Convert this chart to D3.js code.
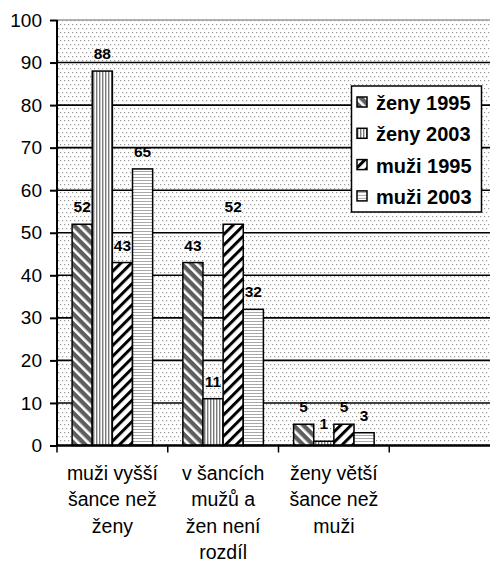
<!DOCTYPE html>
<meta charset="utf-8">
<html>
  <head>
    <title>šance</title>
    <style>
      body { margin: 0; background: #fff; }
      text { font-family: "Liberation Sans", Arial, Helvetica, sans-serif; }
    </style>
  </head>
  <body>
    <script src="https://d3js.org/d3.v7.min.js"></script>
    <script>

    // data
    var categories = ["muži vyšší|šance než|ženy", "v šancích|mužů a|žen není|rozdíl", "ženy větší|šance než|muži", ""];
    var series = ["ženy 1995", "ženy 2003", "muži 1995", "muži 2003"];
    var zeny1995 = [52, 43, 5];
    var zeny2003 = [88, 11, 1];
    var muzi1995 = [43, 52, 5];
    var muzi2003 = [65, 32, 3];
    var yTicks = [0, 10, 20, 30, 40, 50, 60, 70, 80, 90, 100];

    var values = [zeny1995, zeny2003, muzi1995, muzi2003];

    var width = 490, height = 564;
    // plot box (window.top is reserved, so no "top" here)
    var pLeft = 57, pRight = 500, pTop = 20, pBottom = 445.5;

    var svg = d3.select("body").append("svg")
        .attr("width", width)
        .attr("height", height);

    var defs = svg.append("defs");

    // background dots
    var bg = defs.append("pattern").attr("id", "dots")
        .attr("patternUnits", "userSpaceOnUse")
        .attr("width", 4).attr("height", 8);
    bg.append("rect").attr("width", 4).attr("height", 8).attr("fill", "#fff");
    bg.append("rect").attr("x", 0).attr("y", 0).attr("width", 1.2).attr("height", 1.2).attr("fill", "#999");
    bg.append("rect").attr("x", 2).attr("y", 4).attr("width", 1.2).attr("height", 1.2).attr("fill", "#999");

    // ženy 1995: dark with white "\" stripes
    var p0 = defs.append("pattern").attr("id", "p0")
        .attr("patternUnits", "userSpaceOnUse")
        .attr("width", 7).attr("height", 7)
        .attr("patternTransform", "rotate(-45)");
    p0.append("rect").attr("width", 7).attr("height", 7).attr("fill", "#5e5e5e");
    p0.append("rect").attr("width", 2.6).attr("height", 7).attr("fill", "#fff");

    // ženy 2003: vertical fine stripes
    var p1 = defs.append("pattern").attr("id", "p1")
        .attr("patternUnits", "userSpaceOnUse")
        .attr("width", 3).attr("height", 3);
    p1.append("rect").attr("width", 3).attr("height", 3).attr("fill", "#fff");
    p1.append("rect").attr("width", 1).attr("height", 3).attr("fill", "#7a7a7a");
    p1.append("rect").attr("x", 1).attr("width", 1).attr("height", 3).attr("fill", "#c8c8c8");

    // muži 1995: white with black "/" stripes
    var p2 = defs.append("pattern").attr("id", "p2")
        .attr("patternUnits", "userSpaceOnUse")
        .attr("width", 7.5).attr("height", 7.5)
        .attr("patternTransform", "rotate(45)");
    p2.append("rect").attr("width", 7.5).attr("height", 7.5).attr("fill", "#fff");
    p2.append("rect").attr("width", 3).attr("height", 7.5).attr("fill", "#000");

    // muži 2003: horizontal fine stripes
    var p3 = defs.append("pattern").attr("id", "p3")
        .attr("patternUnits", "userSpaceOnUse")
        .attr("width", 3).attr("height", 3);
    p3.append("rect").attr("width", 3).attr("height", 3).attr("fill", "#fff");
    p3.append("rect").attr("width", 3).attr("height", 1).attr("fill", "#a8a8a8");

    var fills = ["url(#p0)", "url(#p1)", "url(#p2)", "url(#p3)"];

    var x = d3.scaleBand()
        .domain(d3.range(categories.length))
        .range([pLeft, pRight])
        .padding(0);

    var xs = d3.scaleBand()
        .domain(d3.range(series.length))
        .range([0, x.bandwidth()])
        .paddingInner(0)
        .paddingOuter(0.75);

    var y = d3.scaleLinear()
        .domain([0, 100])
        .range([pBottom, pTop]);

    // plot area
    svg.append("rect")
        .attr("x", pLeft).attr("y", pTop)
        .attr("width", pRight - pLeft).attr("height", pBottom - pTop)
        .attr("fill", "url(#dots)");

    svg.append("line")
        .attr("x1", pLeft).attr("x2", pRight)
        .attr("y1", y(100)).attr("y2", y(100))
        .attr("stroke", "#999").attr("stroke-width", 1.5);

    // gridlines
    svg.append("g").selectAll("line")
        .data(yTicks.filter(function(d){ return d > 0 && d < 100; }))
      .enter().append("line")
        .attr("x1", pLeft).attr("x2", pRight)
        .attr("y1", function(d){ return y(d); })
        .attr("y2", function(d){ return y(d); })
        .attr("stroke", "#000")
        .attr("stroke-width", 1.6);

    // bars
    var rows = [];
    values.forEach(function(vals, s){
      vals.forEach(function(v, c){
        rows.push({s: s, c: c, v: v});
      });
    });

    svg.append("g").selectAll("rect")
        .data(rows)
      .enter().append("rect")
        .attr("x", function(d){ return x(d.c) + xs(d.s); })
        .attr("y", function(d){ return y(d.v); })
        .attr("width", xs.bandwidth())
        .attr("height", function(d){ return y(0) - y(d.v); })
        .attr("fill", function(d){ return fills[d.s]; })
        .attr("stroke", "#000")
        .attr("stroke-width", 1.5);

    svg.append("g").selectAll("text")
        .data(rows)
      .enter().append("text")
        .attr("x", function(d){ return x(d.c) + xs(d.s) + xs.bandwidth() / 2; })
        .attr("y", function(d){ return y(d.v) - 12; })
        .attr("text-anchor", "middle")
        .style("font-size", "15.5px")
        .style("font-weight", "bold")
        .text(function(d){ return d.v; });

    // y axis
    var yAxis = d3.axisLeft(y)
        .tickValues(yTicks)
        .tickSize(7)
        .tickPadding(8)
        .tickFormat(d3.format("d"));

    var ga = svg.append("g")
        .attr("transform", "translate(" + pLeft + ",0)")
        .call(yAxis);
    ga.select(".domain").attr("stroke-width", 2).attr("d", "M0," + pTop + "V" + pBottom);
    ga.selectAll(".tick line").attr("stroke-width", 2);
    ga.selectAll(".tick text")
        .style("font-size", "19px")
        .style("font-family", "'Liberation Sans', Arial, sans-serif")
        .attr("fill", "#000");

    // x axis
    var gx = svg.append("g");
    gx.append("line")
        .attr("x1", pLeft - 1).attr("x2", pRight)
        .attr("y1", pBottom).attr("y2", pBottom)
        .attr("stroke", "#000").attr("stroke-width", 2.5);
    gx.selectAll("line.tk")
        .data(d3.range(categories.length + 1))
      .enter().append("line")
        .attr("class", "tk")
        .attr("x1", function(d){ return pLeft + d * x.step(); })
        .attr("x2", function(d){ return pLeft + d * x.step(); })
        .attr("y1", pBottom).attr("y2", pBottom + 7)
        .attr("stroke", "#000").attr("stroke-width", 1.5);

    var lab = gx.selectAll("text.cat")
        .data(categories)
      .enter().append("text")
        .attr("class", "cat")
        .attr("text-anchor", "middle")
        .style("font-size", "19.5px")
        .attr("transform", function(d, i){ return "translate(" + (x(i) + x.bandwidth() / 2) + ",480)"; });
    lab.selectAll("tspan")
        .data(function(d){ return d ? d.split("|") : []; })
      .enter().append("tspan")
        .attr("x", 0)
        .attr("y", function(d, i){ return i * 26.4; })
        .text(function(d){ return d; });

    // legend
    var lg = svg.append("g");
    lg.append("rect")
        .attr("x", 351.5).attr("y", 86)
        .attr("width", 130).attr("height", 126)
        .attr("fill", "#fff")
        .attr("stroke", "#000").attr("stroke-width", 1.5);

    var li = lg.selectAll("g.it")
        .data(series)
      .enter().append("g")
        .attr("class", "it")
        .attr("transform", function(d, i){ return "translate(0," + (110 + i * 31.3) + ")"; });
    li.append("rect")
        .attr("x", 357).attr("y", -13)
        .attr("width", 10).attr("height", 10)
        .attr("fill", function(d, i){ return fills[i]; })
        .attr("stroke", "#000").attr("stroke-width", 1.5);
    li.append("text")
        .attr("x", 376)
        .style("font-size", "20px")
        .style("font-weight", "bold")
        .text(function(d){ return d; });

    </script>
  </body>
</html>
